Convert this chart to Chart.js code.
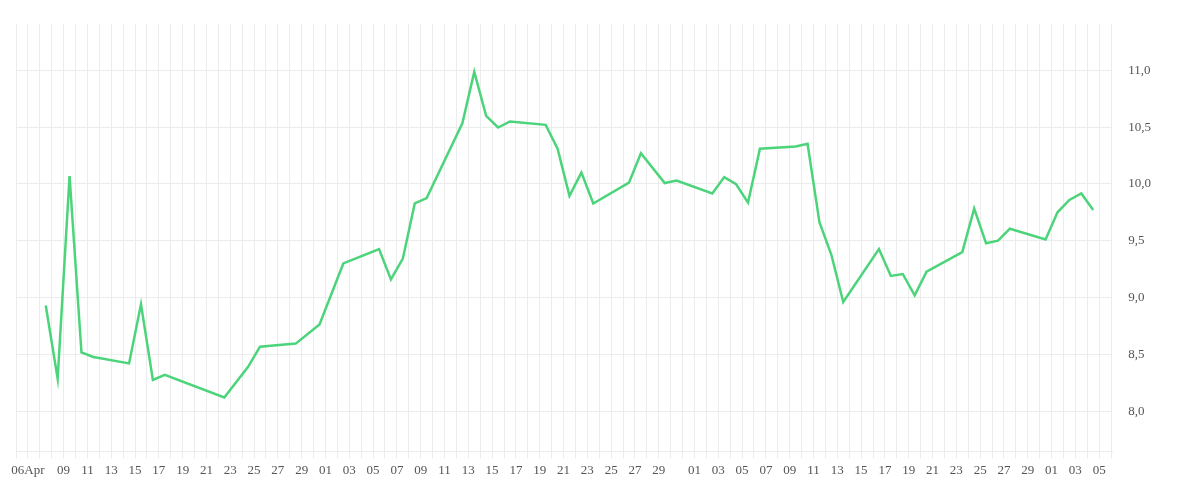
<!DOCTYPE html>
<html><head><meta charset="utf-8">
<script src="https://cdn.jsdelivr.net/npm/chart.js@4/dist/chart.umd.min.js"></script>
<style>html,body{margin:0;padding:0;background:#fff}#wrap{width:1200px;height:500px}</style>
</head><body><div id="wrap"><canvas id="c"></canvas></div>
<script>
// Day slots from 05 Apr (index 0) to 06 Jul; label shown under each gridline
const dayLabels = [
 '', '06Apr', '', '', '09', '', '11', '', '13', '', '15', '', '17', '', '19', '', '21', '', '23', '', '25', '', '27', '', '29', '',
 '01', '', '03', '', '05', '', '07', '', '09', '', '11', '', '13', '', '15', '', '17', '', '19', '', '21', '', '23', '', '25', '', '27', '', '29', '', '',
 '01', '', '03', '', '05', '', '07', '', '09', '', '11', '', '13', '', '15', '', '17', '', '19', '', '21', '', '23', '', '25', '', '27', '', '29', '',
 '01', '', '03', '', '05', ''
];
const dayIndex = [2,3,4,5,6,9,10,11,12,17,19,20,23,25,27,30,31,32,33,34,37,38,39,40,41,44,45,46,47,48,51,52,54,55,58,59,60,61,62,65,66,67,68,69,72,73,74,75,76,79,80,81,82,83,86,87,88,89,90];
const values = [8.93,8.285,10.07,8.516,8.476,8.42,8.94,8.274,8.32,8.12,8.39,8.567,8.594,8.763,9.30,9.427,9.16,9.342,9.828,9.876,10.534,10.986,10.60,10.497,10.55,10.52,10.31,9.895,10.10,9.828,10.011,10.27,10.008,10.03,9.916,10.06,9.997,9.836,10.31,10.33,10.354,9.663,9.376,8.96,9.427,9.19,9.207,9.02,9.227,9.40,9.783,9.477,9.50,9.606,9.511,9.75,9.859,9.916,9.77];
const yTicks = [8.0,8.5,9.0,9.5,10.0,10.5,11.0];

const pts = dayIndex.map((d,k)=>({x:d+0.5,y:values[k]}));
const font = {family:"'Liberation Serif', serif", size:13};
new Chart(document.getElementById('c'),{
  type:'line',
  data:{datasets:[{data:pts,borderColor:'#4cd47b',borderWidth:2.5,pointRadius:0,tension:0,fill:false}]},
  options:{
    responsive:true,maintainAspectRatio:false,animation:false,
    layout:{padding:{left:16,right:33,top:0,bottom:18}},
    plugins:{legend:{display:false},tooltip:{enabled:false}},
    scales:{
      x:{type:'linear',min:0,max:92.1,
        grid:{color:'#ececec',lineWidth:1,tickLength:7},
        border:{display:true,color:'#ececec'},
        afterBuildTicks:a=>{a.ticks=dayLabels.map((_,i)=>({value:i}));},
        ticks:{autoSkip:false,maxRotation:0,color:'#555',font:font,padding:4,
          callback:(v)=>dayLabels[v]||''}},
      y:{position:'right',min:7.645,max:11.41,
        grid:{color:'#ececec',lineWidth:1,drawTicks:false},
        border:{display:false},
        afterBuildTicks:a=>{a.ticks=yTicks.map(v=>({value:v}));},
        ticks:{color:'#555',font:font,padding:16,
          callback:(v)=>v.toFixed(1).replace('.',',')}}
    }
  }
});
</script></body></html>
